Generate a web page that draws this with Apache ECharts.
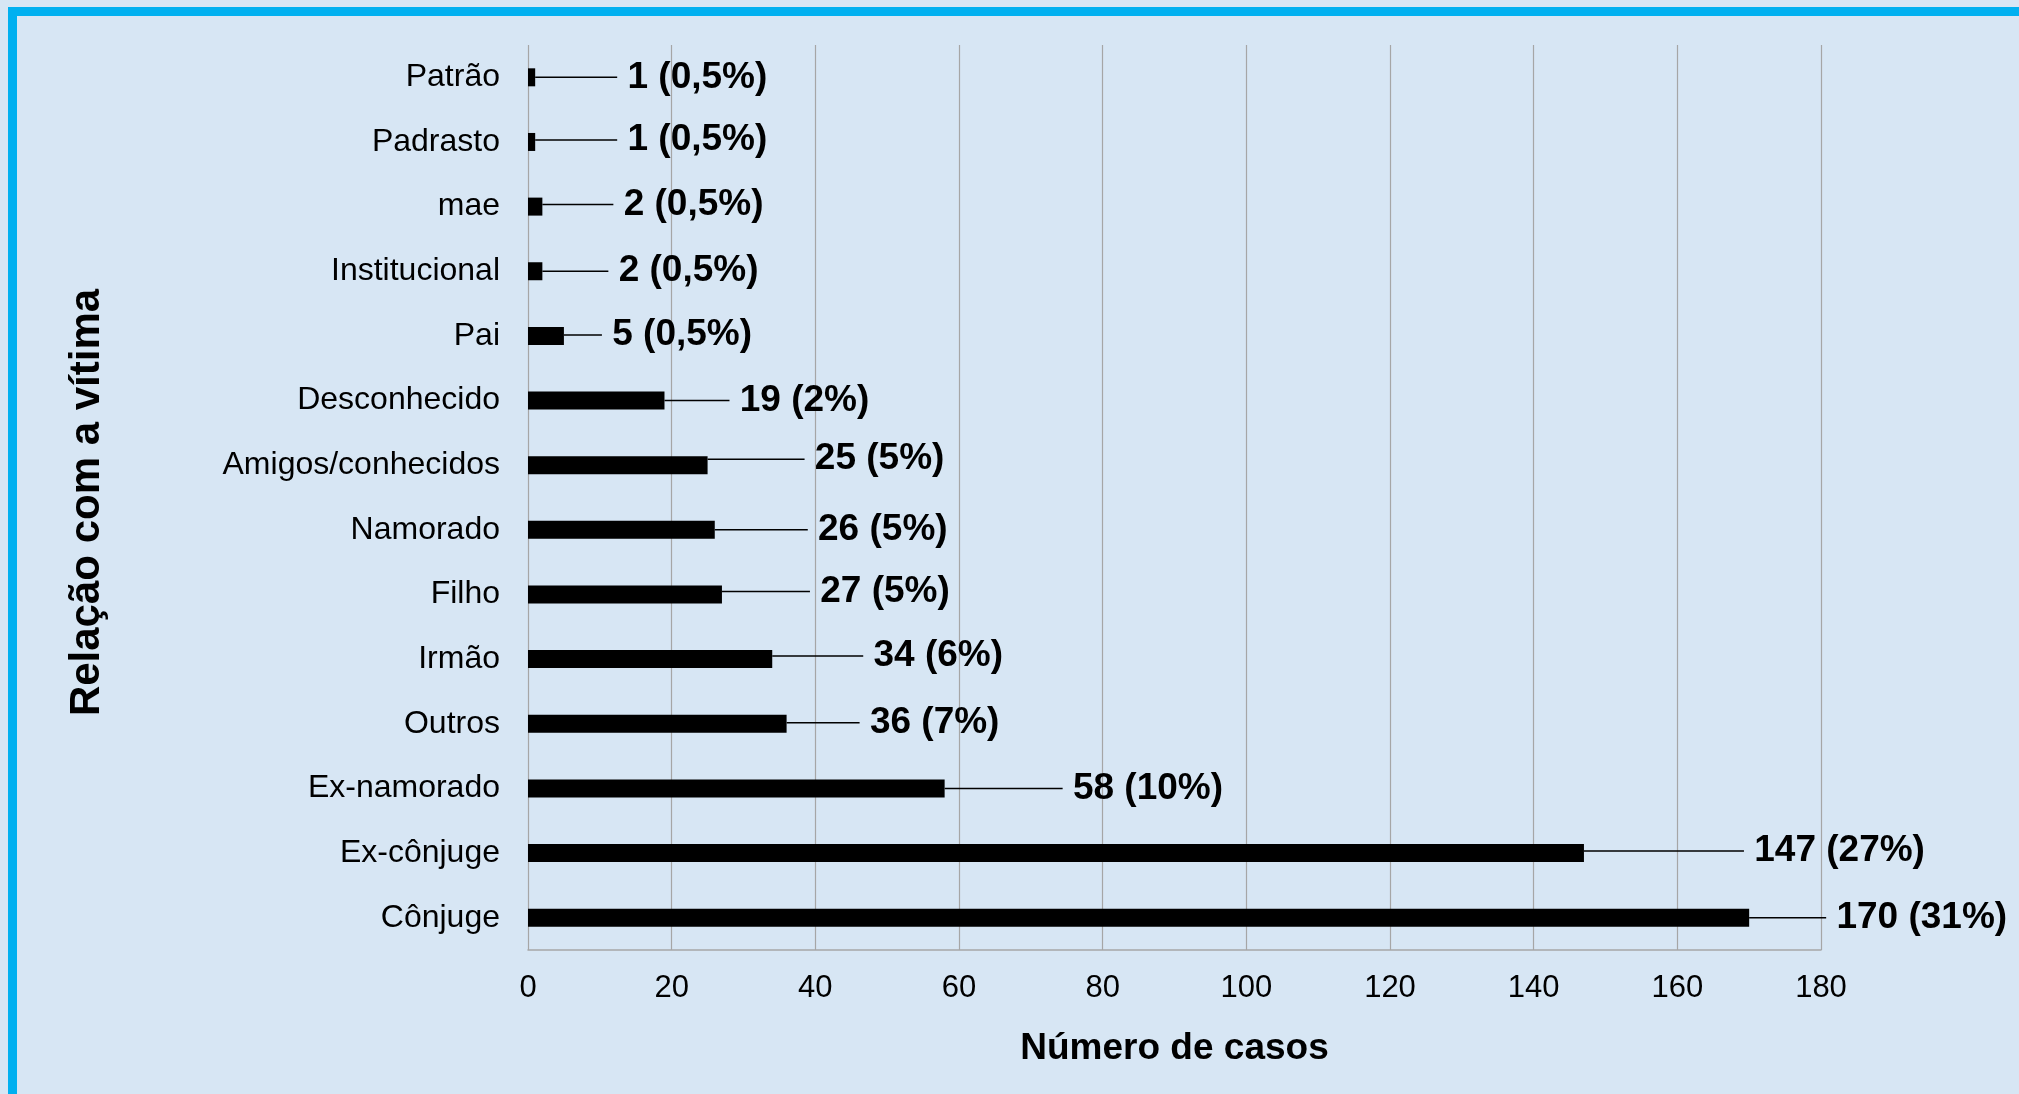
<!DOCTYPE html>
<html>
<head>
<meta charset="utf-8">
<script src="https://cdn.jsdelivr.net/npm/echarts@6/dist/echarts.min.js"></script>
<style>
html,body{margin:0;padding:0;background:#d7e6f4;}
#chart{width:2019px;height:1094px;}
</style>
</head>
<body>
<div id="chart"></div>
<script>
// Categories listed bottom to top
const categories = ['Cônjuge','Ex-cônjuge','Ex-namorado','Outros','Irmão','Filho','Namorado','Amigos/conhecidos','Desconhecido','Pai','Institucional','mae','Padrasto','Patrão'];
const cases = [170,147,58,36,34,27,26,25,19,5,2,2,1,1];
const percents = ['31%','27%','10%','7%','6%','5%','5%','5%','2%','0,5%','0,5%','0,5%','0,5%','0,5%'];
const xTicks = [0,20,40,60,80,100,120,140,160,180];

// label leader offsets (styling)
const labelDx = [77,160,118,73,91,88,93,97,65,38,66,71,82,82];
const labelDy = [0,-2,0,-1,-3,-3,0,-6,0,-1,0,-2,-2,0];

const chart = echarts.init(document.getElementById('chart'));
const FONT = '"Liberation Sans", Arial, sans-serif';
chart.setOption({
  backgroundColor: '#d7e6f4',
  animation: false,
  graphic: [
    {type:'rect', shape:{x:8,y:7,width:2011,height:9}, style:{fill:'#00b0f0'}, silent:true},
    {type:'rect', shape:{x:8,y:7,width:9,height:1087}, style:{fill:'#00b0f0'}, silent:true}
  ],
  grid: {left:528, right:198, top:45, bottom:144, containLabel:false},
  xAxis: {
    type:'value', min:xTicks[0], max:xTicks[xTicks.length-1], interval:xTicks[1]-xTicks[0],
    axisLine:{show:true, lineStyle:{color:'#a6a6a6', width:1.5}},
    axisTick:{show:false},
    splitLine:{show:true, lineStyle:{color:'#a6a6a6', width:1.2}},
    axisLabel:{color:'#000', fontSize:31, fontFamily:FONT, margin:23},
    name:'Número de casos', nameLocation:'middle', nameGap:80,
    nameTextStyle:{color:'#000', fontSize:37, fontWeight:'bold', fontFamily:FONT}
  },
  yAxis: {
    type:'category', data:categories,
    axisLine:{show:false}, axisTick:{show:false},
    axisLabel:{color:'#000', fontSize:32, fontFamily:FONT, margin:28},
    name:'Relação com a vítima', nameLocation:'middle', nameGap:420, nameRotate:90,
    nameTextStyle:{color:'#000', fontSize:42, fontWeight:'bold', fontFamily:FONT, padding:[0,10,0,0]}
  },
  series: [{
    type:'bar', data:cases, barWidth:18,
    itemStyle:{color:'#000'},
    label:{
      show:true, position:'right', distance:0,
      color:'#000', fontSize:37, fontWeight:'bold', fontFamily:FONT,
      formatter:(p)=> ' ' + p.value + ' (' + percents[p.dataIndex] + ')'
    },
    labelLine:{show:true, lineStyle:{color:'#000', width:1.5}},
    labelLayout:(p)=>({dx:labelDx[p.dataIndex], dy:labelDy[p.dataIndex]})
  }]
});
</script>
</body>
</html>
